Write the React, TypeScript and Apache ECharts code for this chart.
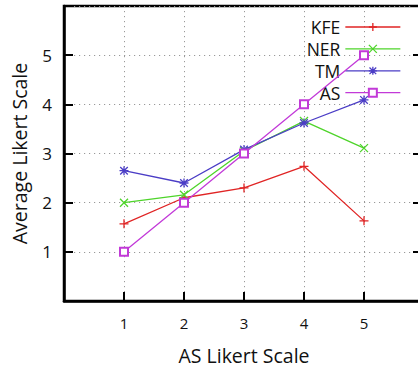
import React, { useEffect, useRef } from "react";
import * as echarts from "echarts";

const xValues = [1, 2, 3, 4, 5];
const tickLabels = ["1", "2", "3", "4", "5"];
const seriesNames = ["KFE", "NER", "TM", "AS"];
const kfe = [1.57, 2.1, 2.3, 2.74, 1.63];
const ner = [2.0, 2.16, 3.05, 3.66, 3.11];
const tm = [2.65, 2.4, 3.08, 3.62, 4.09];
const as = [1.0, 2.0, 3.0, 4.0, 5.0];
const seriesValues = [kfe, ner, tm, as];
const colors = ["#e02424", "#4ed42a", "#4b3dc6", "#c23ad8"];
const symbols = [
  "path://M0,5L10,5M5,0L5,10",
  "path://M0,0L10,10M10,0L0,10",
  "path://M0,5L10,5M5,0L5,10M0.8,0.8L9.2,9.2M9.2,0.8L0.8,9.2",
  "emptyRect",
];
const symbolSizes = [9, 8, 9, 8];

const FONT = "Open Sans";

export default function App() {
  const ref = useRef<HTMLDivElement>(null);
  useEffect(() => {
    if (!ref.current) return;
    const chart = echarts.init(ref.current, undefined, { renderer: "svg" });
    const labelFmt = (v: number) => {
      const i = xValues.indexOf(v);
      return i >= 0 ? tickLabels[i] : "";
    };
    chart.setOption({
      animation: false,
      backgroundColor: "#fff",
      textStyle: { fontFamily: FONT },
      grid: {
        left: 64,
        right: -6,
        top: 6,
        bottom: 66,
        outerBoundsMode: "none",
        containLabel: false,
        show: true,
        borderColor: "#000",
        borderWidth: 2.5,
        backgroundColor: "transparent",
      },
      legend: {
        orient: "vertical",
        right: 17,
        top: 18,
        padding: 0,
        align: "right",
        itemWidth: 55,
        itemHeight: 10,
        itemGap: 3.9,
        data: seriesNames,
        textStyle: {
          fontFamily: FONT,
          fontSize: 17.5,
          lineHeight: 18,
          color: "#111",
        },
        itemStyle: { borderWidth: 1.3 },
        lineStyle: { width: 1.3 },
      },
      xAxis: {
        type: "value",
        min: 0,
        max: 6,
        interval: 1,
        name: "AS Likert Scale",
        nameLocation: "middle",
        nameGap: 44,
        nameTextStyle: { fontFamily: FONT, fontSize: 19.5, lineHeight: 20, color: "#111" },
        axisLine: { show: true, lineStyle: { color: "#000", width: 2.5 } },
        axisTick: { show: true, inside: true, length: 9, lineStyle: { color: "#000", width: 2 } },
        axisLabel: {
          formatter: labelFmt,
          fontFamily: FONT,
          fontSize: 15,
          color: "#111",
          margin: 14,
        },
        splitLine: {
          show: true,
          lineStyle: { color: "#999", width: 1, type: [1.2, 3.8] },
        },
      },
      yAxis: [
        {
          type: "value",
          min: 0,
          max: 6,
          interval: 1,
          name: "Average Likert Scale",
          nameLocation: "middle",
          nameGap: 35,
          nameTextStyle: { fontFamily: FONT, fontSize: 19.5, lineHeight: 20, color: "#111" },
          axisLine: { show: true, lineStyle: { color: "#000", width: 2.5 } },
          axisTick: { show: true, inside: true, length: 9, lineStyle: { color: "#000", width: 2 } },
          axisLabel: {
            formatter: labelFmt,
            fontFamily: FONT,
            fontSize: 17,
            color: "#111",
            margin: 12,
          },
          splitLine: {
            show: true,
            lineStyle: { color: "#999", width: 1, type: [1.2, 3.8] },
          },
        },
        {
          type: "value",
          position: "right",
          min: 0,
          max: 6,
          interval: 1,
          axisLine: { show: true, lineStyle: { color: "#000", width: 2.5 } },
          axisTick: { show: true, inside: true, length: 11, lineStyle: { color: "#000", width: 2 } },
          axisLabel: { show: false },
          splitLine: { show: false },
        },
      ],
      series: seriesNames.map((name, i) => ({
        name,
        type: "line",
        yAxisIndex: 0,
        data: xValues.map((x, j) => [x, seriesValues[i][j]]),
        symbol: symbols[i],
        symbolSize: symbolSizes[i],
        showAllSymbol: true,
        color: colors[i],
        lineStyle: { color: colors[i], width: 1.3 },
        itemStyle: { color: colors[i], borderColor: colors[i], borderWidth: 1.3 },
        z: 2 + i,
      })),
    });
    return () => chart.dispose();
  }, []);
  return (
    <div
      ref={ref}
      style={{ position: "fixed", left: 0, top: 0, width: 418, height: 367 }}
    />
  );
}
